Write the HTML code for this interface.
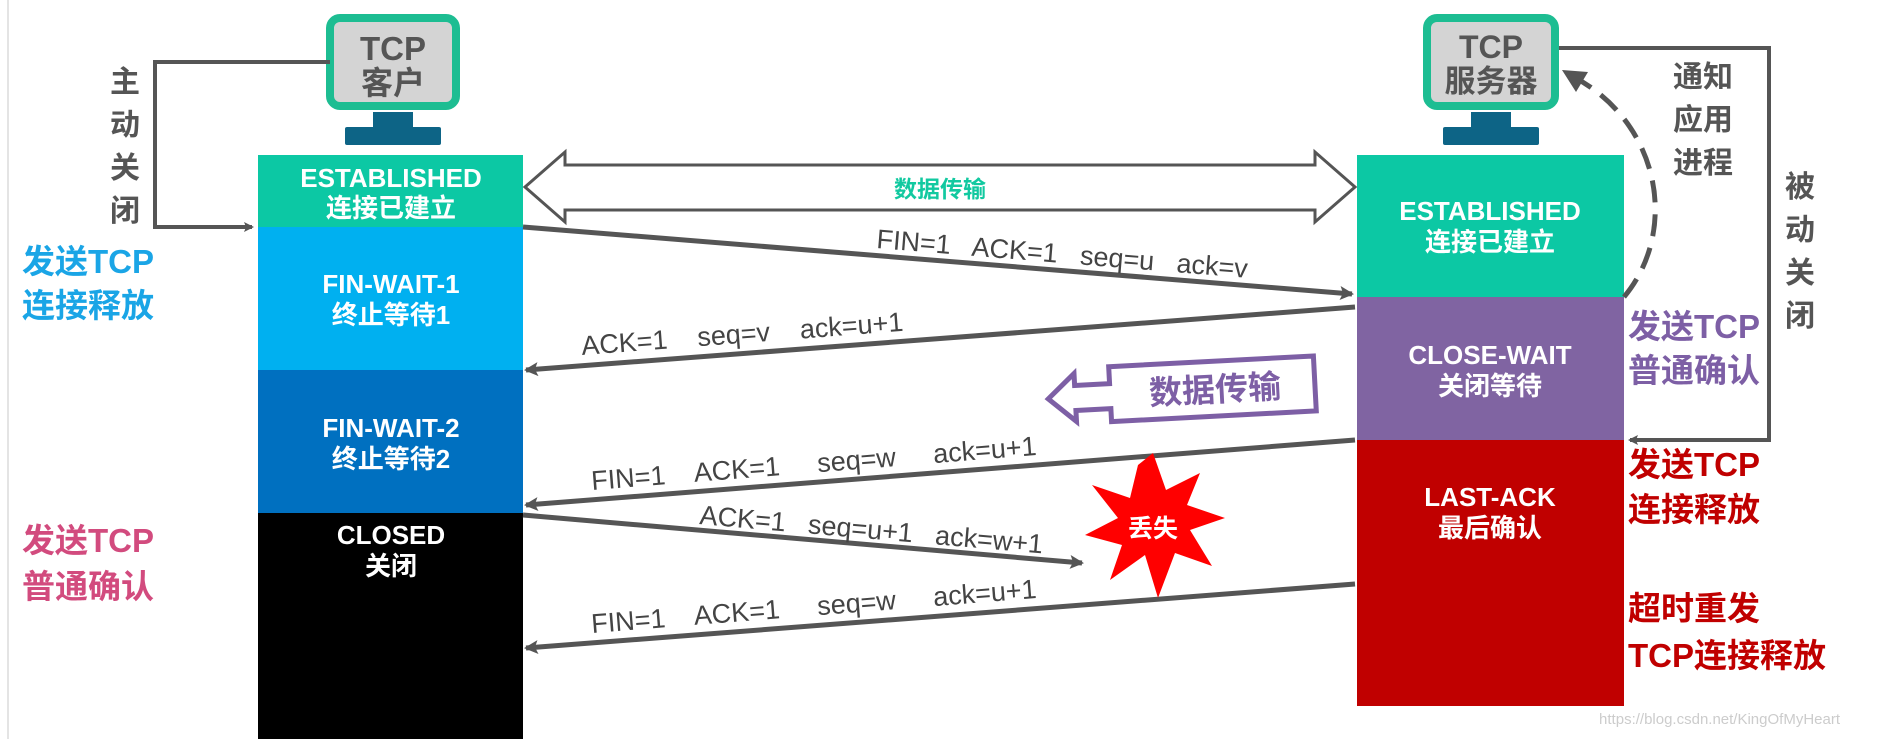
<!DOCTYPE html>
<html><head><meta charset="utf-8"><style>
html,body{margin:0;padding:0;background:#fff;}
svg{display:block}
text{font-family:"Liberation Sans","Noto Sans CJK SC",sans-serif;}
</style></head><body>
<svg width="1900" height="739" viewBox="0 0 1900 739" xmlns="http://www.w3.org/2000/svg">
<defs>
<marker id="ah" markerWidth="10" markerHeight="10" refX="8" refY="5" orient="auto" markerUnits="userSpaceOnUse" viewBox="0 0 10 10">
<path d="M0,0 L10,5 L0,10 L2,5 Z" fill="#555"/></marker>
<marker id="ah2" markerWidth="16" markerHeight="16" refX="12" refY="8" orient="auto" markerUnits="userSpaceOnUse">
<path d="M0,1 L14,8 L0,15 L3,8 Z" fill="#555"/></marker>
</defs>
<line x1="8" y1="0" x2="8" y2="739" stroke="#e4e4e4" stroke-width="2"/>

<!-- client monitor -->
<rect x="330" y="18" width="126" height="88" rx="10" fill="#d4d4d4" stroke="#1dbd92" stroke-width="8"/>
<text x="393" y="60" text-anchor="middle" font-size="33" font-weight="bold" fill="#555">TCP</text>
<text x="393" y="94" text-anchor="middle" font-size="32" font-weight="bold" fill="#555">客户</text>
<rect x="373" y="112" width="40" height="16" fill="#0d6486"/>
<rect x="345" y="127" width="96" height="18" rx="2" fill="#0d6486"/>

<!-- server monitor -->
<rect x="1427" y="18" width="128" height="88" rx="10" fill="#d4d4d4" stroke="#1dbd92" stroke-width="8"/>
<text x="1491" y="58" text-anchor="middle" font-size="32" font-weight="bold" fill="#555">TCP</text>
<text x="1491" y="92" text-anchor="middle" font-size="31" font-weight="bold" fill="#555">服务器</text>
<rect x="1471" y="112" width="40" height="16" fill="#0d6486"/>
<rect x="1443" y="127" width="96" height="18" rx="2" fill="#0d6486"/>

<!-- left column -->
<rect x="258" y="155" width="265" height="72" fill="#0cc8a4"/>
<rect x="258" y="227" width="265" height="143" fill="#00b0f0"/>
<rect x="258" y="370" width="265" height="143" fill="#0070c0"/>
<rect x="258" y="513" width="265" height="226" fill="#000"/>
<g fill="#fff" font-weight="bold" text-anchor="middle" font-size="26">
<text x="391" y="187">ESTABLISHED</text><text x="391" y="217">连接已建立</text>
<text x="391" y="293">FIN-WAIT-1</text><text x="391" y="324">终止等待1</text>
<text x="391" y="437">FIN-WAIT-2</text><text x="391" y="468">终止等待2</text>
<text x="391" y="544">CLOSED</text><text x="391" y="575">关闭</text>
</g>

<!-- right column -->
<rect x="1357" y="155" width="267" height="142" fill="#0cc8a4"/>
<rect x="1357" y="297" width="267" height="143" fill="#8064a2"/>
<rect x="1357" y="440" width="267" height="266" fill="#c00000"/>
<g fill="#fff" font-weight="bold" text-anchor="middle" font-size="26">
<text x="1490" y="220">ESTABLISHED</text><text x="1490" y="251">连接已建立</text>
<text x="1490" y="364">CLOSE-WAIT</text><text x="1490" y="395">关闭等待</text>
<text x="1490" y="506">LAST-ACK</text><text x="1490" y="537">最后确认</text>
</g>

<!-- left loop -->
<polyline points="330,62 155,62 155,227 252,227" fill="none" stroke="#555" stroke-width="4" marker-end="url(#ah)"/>
<g font-size="30" font-weight="bold" fill="#555" text-anchor="middle">
<text x="125" y="92">主</text><text x="125" y="135">动</text><text x="125" y="178">关</text><text x="125" y="221">闭</text>
</g>
<!-- right loop -->
<polyline points="1559,48 1769,48 1769,440 1630,440" fill="none" stroke="#555" stroke-width="4" marker-end="url(#ah)"/>
<g font-size="30" font-weight="bold" fill="#555" text-anchor="middle">
<text x="1800" y="197">被</text><text x="1800" y="240">动</text><text x="1800" y="283">关</text><text x="1800" y="326">闭</text>
<text x="1703" y="87">通知</text><text x="1703" y="130">应用</text><text x="1703" y="173">进程</text>
</g>
<!-- dashed arc -->
<path d="M1624,297 C1680,230 1660,120 1570,75" fill="none" stroke="#555" stroke-width="5" stroke-dasharray="22,12"/>
<path d="M1562,70 L1588,72 L1576,92 Z" fill="#555"/>

<!-- double arrow data transfer -->
<path d="M525,187 L565,152 L565,165 L1315,165 L1315,152 L1355,187 L1315,222 L1315,210 L565,210 L565,222 Z" fill="#fff" stroke="#555" stroke-width="3"/>
<text x="940" y="197" text-anchor="middle" font-size="23" font-weight="bold" fill="#12c9a0">数据传输</text>

<!-- side labels -->
<g font-size="33" font-weight="bold">
<text x="22" y="273" fill="#1aa5e6">发送TCP</text><text x="22" y="317" fill="#1aa5e6">连接释放</text>
<text x="22" y="552" fill="#d24b7e">发送TCP</text><text x="22" y="598" fill="#d24b7e">普通确认</text>
<text x="1628" y="338" fill="#7d5fa5">发送TCP</text><text x="1628" y="382" fill="#7d5fa5">普通确认</text>
<text x="1628" y="476" fill="#c00000">发送TCP</text><text x="1628" y="521" fill="#c00000">连接释放</text>
<text x="1628" y="620" fill="#c00000">超时重发</text><text x="1628" y="667" fill="#c00000">TCP连接释放</text>
</g>

<!-- message arrows -->
<g stroke="#555" stroke-width="5" fill="none">
<line x1="523" y1="227" x2="1352" y2="294" marker-end="url(#ah2)"/>
<line x1="1355" y1="307" x2="526" y2="370" marker-end="url(#ah2)"/>
<line x1="1355" y1="440" x2="526" y2="505" marker-end="url(#ah2)"/>
<line x1="523" y1="515" x2="1082" y2="563" marker-end="url(#ah2)"/>
<line x1="1355" y1="584" x2="526" y2="648" marker-end="url(#ah2)"/>
</g>
<g font-size="27" fill="#444">
<text transform="translate(876,248) rotate(4.6)" xml:space="preserve">FIN=1   ACK=1   seq=u   ack=v</text>
<text transform="translate(582,355) rotate(-4.3)" xml:space="preserve">ACK=1    seq=v    ack=u+1</text>
<text transform="translate(592,490) rotate(-4.5)" xml:space="preserve">FIN=1    ACK=1     seq=w     ack=u+1</text>
<text transform="translate(699,524) rotate(4.9)" xml:space="preserve">ACK=1   seq=u+1   ack=w+1</text>
<text transform="translate(592,633) rotate(-4.5)" xml:space="preserve">FIN=1    ACK=1     seq=w     ack=u+1</text>
</g>

<!-- purple data transfer callout -->
<g transform="rotate(-3 1180 390)">
<path d="M1110,363 L1315,363 L1315,418 L1110,418 L1110,405 L1075,405 L1075,416 L1048,392 L1075,368 L1075,380 L1110,380 Z" fill="#fff" stroke="#7d5fa5" stroke-width="5"/>
<text x="1215" y="403" text-anchor="middle" font-size="33" font-weight="bold" fill="#7d5fa5">数据传输</text>
</g>

<!-- lost starburst -->
<polygon points="1153,453 1166,490 1200,473 1187,505 1225,518 1190,530 1212,566 1175,553 1158,598 1145,555 1110,580 1122,545 1085,535 1118,518 1092,485 1130,498 1138,465" fill="#ff0000"/>
<text x="1153" y="537" text-anchor="middle" font-size="25" font-weight="bold" fill="#fff">丢失</text>

<text x="1840" y="724" text-anchor="end" font-size="15" fill="#ccc">https://blog.csdn.net/KingOfMyHeart</text>
</svg>
</body></html>
